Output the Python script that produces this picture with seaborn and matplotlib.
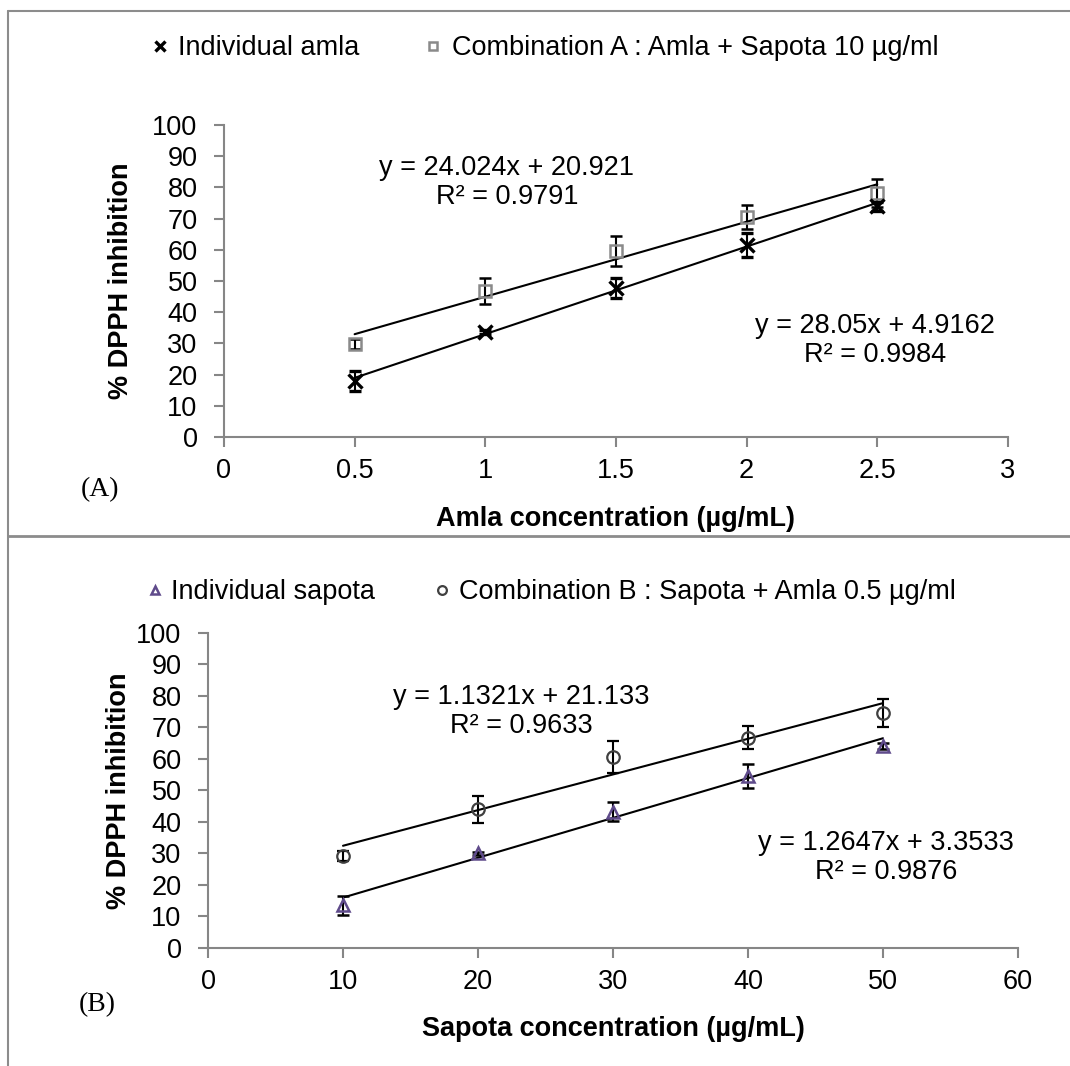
import numpy as np
import pandas as pd
import matplotlib
matplotlib.use("Agg")
import matplotlib.pyplot as plt
import seaborn as sns
from matplotlib.lines import Line2D

# panel A: amla concentration
amla_x = [0.5, 1.0, 1.5, 2.0, 2.5]
amla_ind = [17.9, 33.6, 47.8, 61.5, 73.9]
amla_ind_err = [3.2, 0.6, 3.2, 3.8, 1.5]
amla_comb = [29.8, 46.8, 59.6, 70.5, 78.2]
amla_comb_err = [1.5, 4.3, 4.8, 3.7, 4.5]
amla_fit = {"ind": (28.05, 4.9162, 0.9984), "comb": (24.024, 20.921, 0.9791)}

# panel B: sapota concentration
sap_x = [10, 20, 30, 40, 50]
sap_ind = [13.5, 30.1, 43.3, 54.5, 64.2]
sap_ind_err = [3.0, 0.5, 3.0, 3.8, 1.0]
sap_comb = [29.2, 44.1, 60.6, 66.8, 74.6]
sap_comb_err = [1.6, 4.3, 5.0, 3.6, 4.4]
sap_fit = {"ind": (1.2647, 3.3533, 0.9876), "comb": (1.1321, 21.133, 0.9633)}

sns.set_style("white")
plt.rcParams['font.family'] = ['Liberation Sans', 'DejaVu Sans']
plt.rcParams['text.color'] = 'black'
plt.rcParams['axes.labelcolor'] = 'black'

AX_GRAY = "#868686"
FS = 19.5

fig = plt.figure(figsize=(10.7, 10.66), dpi=100)
axA = fig.add_axes([0.2093, 0.5901, 0.7327, 0.2927])
axB = fig.add_axes([0.1944, 0.1107, 0.7570, 0.2955])


def fit_line(ax, xs, coef):
    k, b, _ = coef
    xx = np.array([min(xs), max(xs)])
    df = pd.DataFrame({"x": xx, "y": k * xx + b})
    sns.lineplot(data=df, x="x", y="y", ax=ax, color="black", lw=1.5)


def eq_text(coef):
    k, b, r2 = coef
    return "y = {}x + {}\nR² = {}".format(k, b, r2)


def style_axes(ax, xlim, xticks, xticklabels, xlabel, ylab_x, xlab_y):
    ax.set_xlim(*xlim)
    ax.set_ylim(0, 100)
    ax.set_xticks(xticks)
    ax.set_xticklabels(xticklabels)
    ax.set_yticks(range(0, 101, 10))
    for s in ["top", "right"]:
        ax.spines[s].set_visible(False)
    for s in ["left", "bottom"]:
        ax.spines[s].set_color(AX_GRAY)
        ax.spines[s].set_linewidth(1.5)
    ax.tick_params(axis="both", direction="out", length=7, width=1.5,
                   color=AX_GRAY, labelsize=FS, labelcolor="black")
    ax.tick_params(axis="y", pad=12, left=True)
    ax.tick_params(axis="x", pad=8, bottom=True)
    ax.set_xlabel(xlabel, fontsize=FS, fontweight="bold", color="black")
    ax.set_ylabel("% DPPH inhibition", fontsize=FS, fontweight="bold",
                  color="black")
    ax.yaxis.set_label_coords(ylab_x, 0.5)
    ax.xaxis.set_label_coords(0.5, xlab_y)


# ---- panel A
fit_line(axA, amla_x, amla_fit["comb"])
fit_line(axA, amla_x, amla_fit["ind"])
hA1 = axA.errorbar(amla_x, amla_ind, yerr=amla_ind_err, fmt="x", color="black",
                   ms=10, mew=2.4, ecolor="black", elinewidth=1.5, capsize=4,
                   capthick=1.5, zorder=4)
hA2 = axA.errorbar(amla_x, amla_comb, yerr=amla_comb_err, fmt="s", mfc="none",
                   mec="#8a8a8a", ms=8, mew=1.8, ecolor="black", elinewidth=1.5,
                   capsize=4, capthick=1.5, zorder=3)
axA.text(1.083, 81.6, eq_text(amla_fit["comb"]), ha="center", va="center",
         fontsize=FS, linespacing=1.15, color="black")
axA.text(2.49, 30.8, eq_text(amla_fit["ind"]), ha="center", va="center",
         fontsize=FS, linespacing=1.15, color="black")
style_axes(axA, (0, 3), [0, 0.5, 1, 1.5, 2, 2.5, 3],
           ["0", "0.5", "1", "1.5", "2", "2.5", "3"],
           "Amla concentration (µg/mL)", -0.115, -0.22)

# ---- panel B
fit_line(axB, sap_x, sap_fit["comb"])
fit_line(axB, sap_x, sap_fit["ind"])
hB1 = axB.errorbar(sap_x, sap_ind, yerr=sap_ind_err, fmt="^", mfc="none",
                   mec="#5f4b8b", ms=9, mew=1.8, ecolor="black", elinewidth=1.5,
                   capsize=4, capthick=1.5, zorder=3)
hB2 = axB.errorbar(sap_x, sap_comb, yerr=sap_comb_err, fmt="o", mfc="none",
                   mec="#404040", ms=9, mew=1.6, ecolor="black", elinewidth=1.5,
                   capsize=4, capthick=1.5, zorder=3)
axB.text(23.2, 75.2, eq_text(sap_fit["comb"]), ha="center", va="center",
         fontsize=FS, linespacing=1.15, color="black")
axB.text(50.2, 28.7, eq_text(sap_fit["ind"]), ha="center", va="center",
         fontsize=FS, linespacing=1.15, color="black")
style_axes(axB, (0, 60), range(0, 61, 10), [str(v) for v in range(0, 61, 10)],
           "Sapota concentration (µg/mL)", -0.094, -0.215)

# legends
fig.legend([hA1[0], hA2[0]],
           ["Individual amla", "Combination A : Amla + Sapota 10 µg/ml"],
           loc="center", bbox_to_anchor=(545 / 1070, 1 - 48 / 1066), ncol=2,
           frameon=False, fontsize=FS, markerscale=0.75, handlelength=0.6,
           handletextpad=0.4, columnspacing=2.4)
fig.legend([hB1[0], hB2[0]],
           ["Individual sapota", "Combination B : Sapota + Amla 0.5 µg/ml"],
           loc="center", bbox_to_anchor=(551 / 1070, 1 - 592 / 1066), ncol=2,
           frameon=False, fontsize=FS, markerscale=0.7, handlelength=0.6,
           handletextpad=0.3, columnspacing=2.2)

# panel tags
fig.text(100 / 1070, 1 - 490 / 1066, "(A)", family="Liberation Serif",
         fontsize=20, ha="center", va="center", color="black")
fig.text(97 / 1070, 1 - 1005 / 1066, "(B)", family="Liberation Serif",
         fontsize=20, ha="center", va="center", color="black")

# frame lines
fc = "#8c8c8c"
fig.add_artist(Line2D([8 / 1070, 1], [1 - 11 / 1066, 1 - 11 / 1066],
                      transform=fig.transFigure, color=fc, lw=1.5))
fig.add_artist(Line2D([8 / 1070, 8 / 1070], [0, 1 - 11 / 1066],
                      transform=fig.transFigure, color=fc, lw=1.5))
fig.add_artist(Line2D([8 / 1070, 1], [1 - 536 / 1066, 1 - 536 / 1066],
                      transform=fig.transFigure, color=fc, lw=2))

fig.savefig("out.png", dpi=100)
